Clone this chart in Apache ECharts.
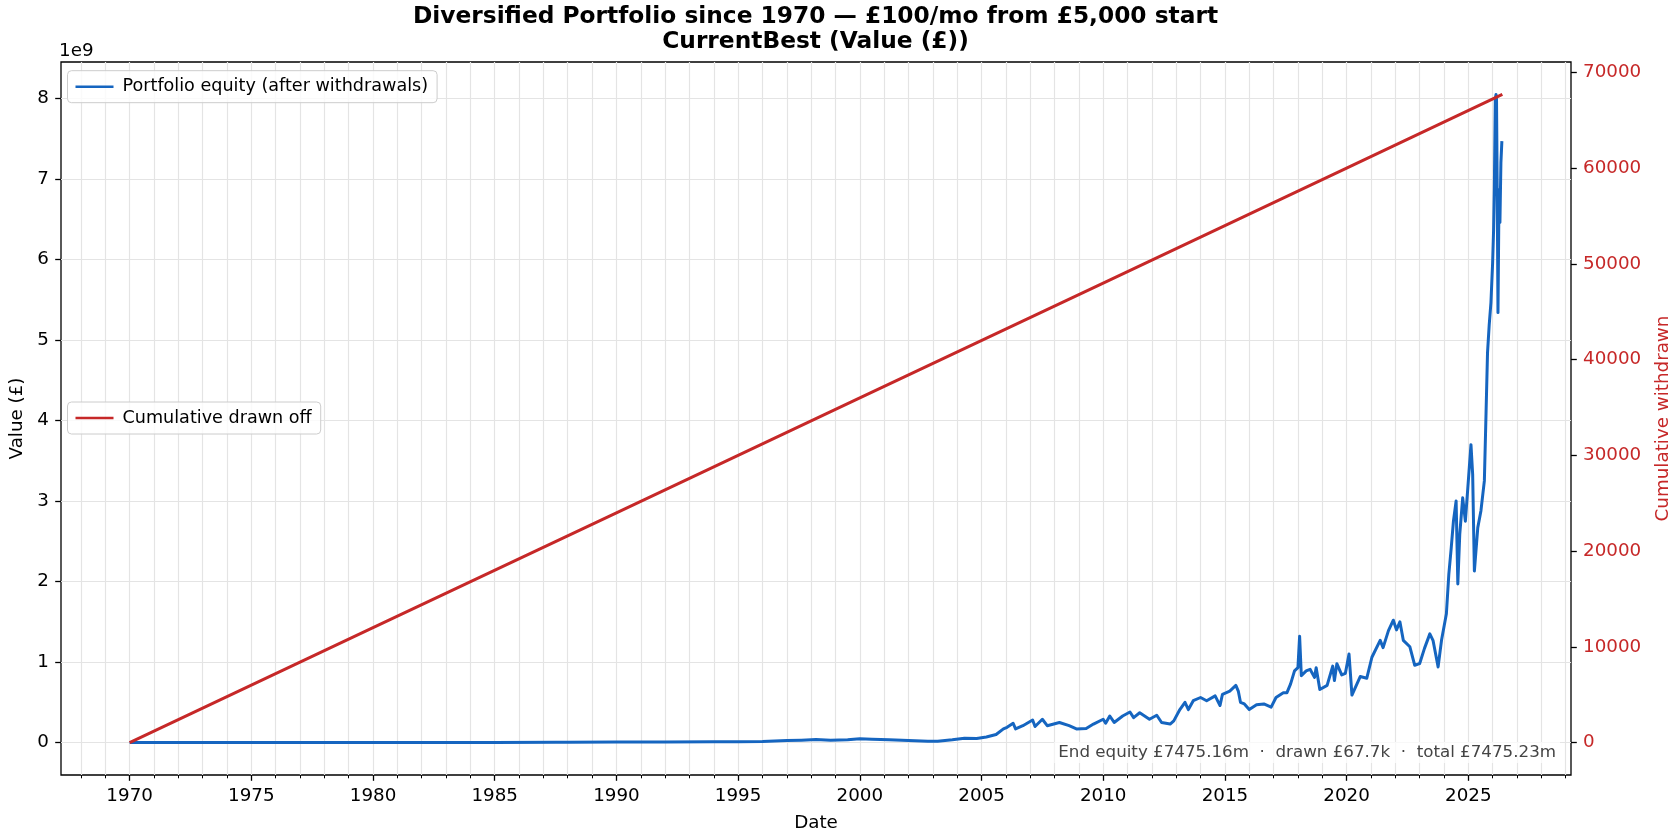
<!DOCTYPE html>
<html>
<head>
<meta charset="utf-8">
<script src="https://cdn.jsdelivr.net/npm/echarts@6/dist/echarts.min.js"></script>
<style>
html,body{margin:0;padding:0;background:#fff;}
#chart{width:1680px;height:840px;}
</style>
</head>
<body>
<div id="chart"></div>
<script>
// ---- Data ----
// Portfolio equity (after withdrawals), decimal year vs value in £ billions (axis shows ×1e9)
const eqYears = [
  1970.0, 1972.0, 1975.0, 1978.0, 1980.0, 1983.0, 1985.0, 1987.5, 1988.0, 1990.0,
  1992.0, 1994.0, 1995.0, 1996.0, 1997.0, 1997.6, 1998.2, 1998.8, 1999.5, 2000.0,
  2000.5, 2001.2, 2002.0, 2002.8, 2003.2, 2003.8, 2004.3, 2004.8, 2005.2, 2005.6,
  2005.9, 2006.05, 2006.3, 2006.4, 2006.7, 2007.1, 2007.2, 2007.5, 2007.7, 2008.2,
  2008.6, 2008.9, 2009.3, 2009.6, 2010.0, 2010.1, 2010.27, 2010.45, 2010.8, 2011.1,
  2011.25, 2011.5, 2011.9, 2012.2, 2012.4, 2012.75, 2012.9, 2013.15, 2013.36, 2013.5,
  2013.7, 2014.0, 2014.25, 2014.6, 2014.8, 2014.9, 2015.2, 2015.45, 2015.55, 2015.64,
  2015.8, 2016.0, 2016.3, 2016.6, 2016.9, 2017.1, 2017.4, 2017.55, 2017.7, 2017.86,
  2018.0, 2018.07, 2018.14, 2018.34, 2018.5, 2018.68, 2018.75, 2018.9, 2019.2, 2019.43,
  2019.5, 2019.6, 2019.8, 2019.95, 2020.1, 2020.18, 2020.22, 2020.56, 2020.83, 2021.04,
  2021.38, 2021.5, 2021.72, 2021.92, 2022.05, 2022.19, 2022.33, 2022.6, 2022.8, 2023.0,
  2023.2, 2023.42, 2023.55, 2023.76, 2023.9, 2024.1, 2024.2, 2024.3, 2024.39, 2024.5,
  2024.57, 2024.65, 2024.77, 2024.88, 2024.98, 2025.11, 2025.18, 2025.25, 2025.39, 2025.52,
  2025.66, 2025.73, 2025.79, 2025.86, 2025.93, 2026.0, 2026.04, 2026.07, 2026.11, 2026.14,
  2026.16, 2026.19, 2026.22, 2026.25, 2026.27, 2026.3, 2026.34, 2026.38, 2026.4
];
const eqValuesBn = [
  0.000005, 0.00001, 0.00003, 0.0001, 0.0003, 0.001, 0.002, 0.005, 0.004, 0.006,
  0.007, 0.009, 0.010, 0.014, 0.025, 0.030, 0.038, 0.028, 0.036, 0.048,
  0.042, 0.035, 0.025, 0.018, 0.017, 0.035, 0.055, 0.050, 0.070, 0.100,
  0.170, 0.190, 0.240, 0.170, 0.210, 0.280, 0.200, 0.290, 0.210, 0.250,
  0.210, 0.170, 0.175, 0.230, 0.290, 0.240, 0.330, 0.250, 0.330, 0.380,
  0.310, 0.370, 0.290, 0.340, 0.250, 0.230, 0.270, 0.410, 0.500, 0.410,
  0.520, 0.560, 0.520, 0.580, 0.460, 0.600, 0.640, 0.710, 0.640, 0.500,
  0.480, 0.410, 0.470, 0.480, 0.440, 0.560, 0.620, 0.620, 0.730, 0.890,
  0.930, 1.320, 0.830, 0.890, 0.910, 0.810, 0.930, 0.660, 0.710, 0.950,
  0.770, 0.980, 0.840, 0.860, 1.100, 1.100, 0.590, 0.820, 0.800, 1.060,
  1.270, 1.180, 1.390, 1.520, 1.400, 1.500, 1.270, 1.190, 0.960, 0.980,
  1.170, 1.350, 1.270, 0.940, 1.270, 1.600, 2.090, 2.420, 2.750, 3.000,
  1.970, 2.590, 3.040, 2.750, 3.160, 3.700, 3.330, 2.130, 2.670, 2.880,
  3.250, 4.100, 4.840, 5.190, 5.460, 5.960, 6.370, 6.870, 8.000, 8.050,
  7.990, 6.790, 5.340, 6.370, 6.870, 6.460, 7.200, 7.470, 7.47516
];
// Cumulative drawn off (£), right axis
const drawnYears  = [1970.0, 1980.0, 1990.0, 2000.0, 2010.0, 2020.0, 2026.4];
const drawnValues = [0, 12000, 24000, 36000, 48000, 60000, 67700];
// Tick labels
const xTickYears  = [1970, 1975, 1980, 1985, 1990, 1995, 2000, 2005, 2010, 2015, 2020, 2025];
const leftTicks   = [0, 1, 2, 3, 4, 5, 6, 7, 8];
const rightTicks  = [0, 10000, 20000, 30000, 40000, 50000, 60000, 70000];

// ---- Build ----
const FONT = 'DejaVu Sans';
const equityData = eqYears.map((y, i) => [y, eqValuesBn[i]]);
const drawnData  = drawnYears.map((y, i) => [y, drawnValues[i]]);

const xLo = Math.min(eqYears[0], drawnYears[0]);
const xHi = Math.max(eqYears[eqYears.length - 1], drawnYears[drawnYears.length - 1]);
const xPad = (xHi - xLo) * 0.05;
const eMin = Math.min(...eqValuesBn), eMax = Math.max(...eqValuesBn);
const ePad = (eMax - eMin) * 0.05;
const dMin = Math.min(...drawnValues), dMax = Math.max(...drawnValues);
const dPad = (dMax - dMin) * 0.05;

const endEq = eqValuesBn[eqValuesBn.length - 1] * 1000;      // £m
const drawnK = drawnValues[drawnValues.length - 1] / 1000;   // £k
const totalM = endEq + drawnValues[drawnValues.length - 1] / 1e6;
const annot = 'End equity £' + endEq.toFixed(2) + 'm  ·  drawn £' + drawnK.toFixed(1) +
              'k  ·  total £' + totalM.toFixed(2) + 'm';

const chart = echarts.init(document.getElementById('chart'), null, {renderer: 'canvas'});
const legendCommon = {
  orient: 'vertical',
  left: 67.5,
  padding: [7, 9, 7, 8],
  icon: 'rect',
  itemWidth: 38,
  itemHeight: 2.6,
  backgroundColor: 'rgba(255,255,255,0.8)',
  borderColor: '#cccccc',
  borderWidth: 1,
  borderRadius: 4,
  textStyle: {fontFamily: FONT, fontSize: 17.6, color: '#000', padding: [0, 0, 0, 4]}
};
chart.setOption({
  animation: false,
  textStyle: {fontFamily: FONT},
  title: {
    text: 'Diversified Portfolio since 1970 — £100/mo from £5,000 start\nCurrentBest (Value (£))',
    left: 815.5, top: 4, padding: 0, textAlign: 'center',
    textStyle: {fontFamily: FONT, fontSize: 23.3, fontWeight: 'bold', color: '#000', lineHeight: 25}
  },
  grid: {
    left: 59, right: 108, top: 62, bottom: 65,
    show: true, borderColor: '#000', borderWidth: 1.3, backgroundColor: 'transparent',
    containLabel: false
  },
  legend: [
    Object.assign({}, legendCommon, {data: ['Portfolio equity (after withdrawals)'], top: 70.7}),
    Object.assign({}, legendCommon, {data: ['Cumulative drawn off'], top: 402})
  ],
  xAxis: {
    type: 'value',
    min: xLo - xPad, max: xHi + xPad,
    minInterval: 5, maxInterval: 5,
    name: 'Date', nameLocation: 'middle', nameGap: 39,
    nameTextStyle: {fontFamily: FONT, fontSize: 18.3, color: '#000'},
    axisLine: {show: false, onZero: false},
    axisTick: {show: true, inside: false, length: 5.8, customValues: xTickYears,
               lineStyle: {color: '#000', width: 1.3}},
    minorTick: {show: true, splitNumber: 5, length: 3.3, lineStyle: {color: '#000', width: 1}},
    axisLabel: {customValues: xTickYears, fontFamily: FONT, fontSize: 18.3, color: '#000', margin: 12,
                formatter: v => String(v)},
    splitLine: {show: true, lineStyle: {color: '#e4e4e4', width: 1.2}},
    minorSplitLine: {show: true, lineStyle: {color: '#e4e4e4', width: 1.2}}
  },
  yAxis: [
    {
      type: 'value', position: 'left',
      min: eMin - ePad, max: eMax + ePad,
      minInterval: 1, maxInterval: 1,
      name: 'Value (£)', nameLocation: 'middle', nameGap: 35, nameRotate: 90,
      nameTextStyle: {fontFamily: FONT, fontSize: 18.3, color: '#000'},
      axisLine: {show: false, onZero: false},
      axisTick: {show: true, length: 5.8, customValues: leftTicks, lineStyle: {color: '#000', width: 1.3}},
      axisLabel: {customValues: leftTicks, fontFamily: FONT, fontSize: 18.3, color: '#000', margin: 12,
                  formatter: v => String(v)},
      splitLine: {show: true, lineStyle: {color: '#e4e4e4', width: 1.2}}
    },
    {
      type: 'value', position: 'right',
      min: dMin - dPad, max: dMax + dPad,
      minInterval: 10000, maxInterval: 10000,
      name: 'Cumulative withdrawn', nameLocation: 'middle', nameGap: 83, nameRotate: 90,
      nameTextStyle: {fontFamily: FONT, fontSize: 18.3, color: '#C62828'},
      axisLine: {show: false, onZero: false},
      axisTick: {show: true, length: 5.8, customValues: rightTicks, lineStyle: {color: '#000', width: 1.3}},
      axisLabel: {customValues: rightTicks, fontFamily: FONT, fontSize: 18.3, color: '#C62828', margin: 12,
                  formatter: v => String(v)},
      splitLine: {show: false}
    }
  ],
  graphic: [
    {type: 'text', left: 59, top: 42,
     style: {text: '1e9', fontFamily: FONT, fontSize: 18.3, fill: '#000'}},
    {type: 'text', right: 120, top: 742, z: 50,
     style: {text: annot, fontFamily: FONT, fontSize: 16.7, fill: '#444444',
             backgroundColor: 'rgba(255,255,255,0.75)', padding: [2, 4, 2, 4]}}
  ],
  series: [
    {
      name: 'Portfolio equity (after withdrawals)', type: 'line', yAxisIndex: 0,
      data: equityData, showSymbol: false, symbol: 'none', smooth: false,
      lineStyle: {color: '#1565C0', width: 3, join: 'round'}, itemStyle: {color: '#1565C0'}, z: 2
    },
    {
      name: 'Cumulative drawn off', type: 'line', yAxisIndex: 1,
      data: drawnData, showSymbol: false, symbol: 'none',
      lineStyle: {color: '#C62828', width: 3}, itemStyle: {color: '#C62828'}, z: 3
    }
  ]
});
</script>
</body>
</html>
